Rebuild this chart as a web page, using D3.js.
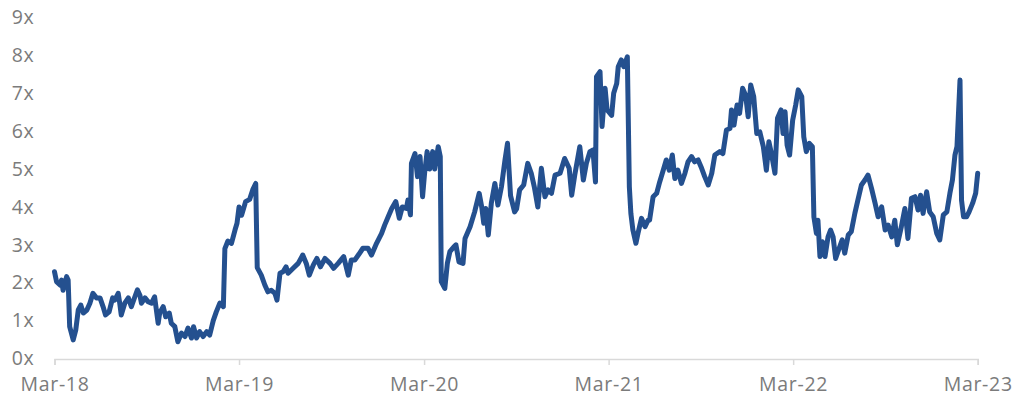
<!DOCTYPE html>
<meta charset="utf-8">
<head>
    <title>Multiple over time</title>
    <script type="text/javascript" src="https://d3js.org/d3.v7.min.js"></script>
    <style>
        body { margin: 0; background: #fff; }
        .tick text { font-family: "Open Sans", sans-serif; font-size: 19.5px; fill: #7b7b7b; letter-spacing: 0.7px; }
    </style>
</head>
<body>
    <div id="chart"></div>
    <script>
        // values, multiple (x)
        var dates = [
            "2018-03-01","2018-03-05","2018-03-12","2018-03-15","2018-03-18","2018-03-25","2018-03-28","2018-03-31",
            "2018-04-07","2018-04-12","2018-04-17","2018-04-22","2018-04-27","2018-05-04","2018-05-10","2018-05-16",
            "2018-05-23","2018-05-30","2018-06-05","2018-06-10","2018-06-17","2018-06-24","2018-06-28","2018-07-05",
            "2018-07-08","2018-07-11","2018-07-18","2018-07-25","2018-07-31","2018-08-07","2018-08-12","2018-08-17",
            "2018-08-20","2018-08-27","2018-09-02","2018-09-09","2018-09-15","2018-09-22","2018-09-25","2018-10-02",
            "2018-10-07","2018-10-14","2018-10-18","2018-10-25","2018-10-31","2018-11-07","2018-11-14","2018-11-20",
            "2018-11-27","2018-12-01","2018-12-07","2018-12-13","2018-12-20","2018-12-27","2019-01-02","2019-01-09",
            "2019-01-15","2019-01-22","2019-01-29","2019-02-01","2019-02-07","2019-02-14","2019-02-21","2019-02-25",
            "2019-03-01","2019-03-06","2019-03-14","2019-03-22","2019-03-28","2019-04-03","2019-04-06","2019-04-14",
            "2019-04-21","2019-04-27","2019-05-04","2019-05-11","2019-05-15","2019-05-21","2019-05-27","2019-06-02",
            "2019-06-06","2019-06-16","2019-06-26","2019-07-05","2019-07-12","2019-07-18","2019-07-26","2019-08-02",
            "2019-08-09","2019-08-18","2019-08-28","2019-09-04","2019-09-13","2019-09-24","2019-10-03","2019-10-09",
            "2019-10-16","2019-10-24","2019-11-01","2019-11-11","2019-11-18","2019-11-28","2019-12-08","2019-12-14",
            "2019-12-21","2019-12-28","2020-01-05","2020-01-12","2020-01-18","2020-01-26","2020-01-29","2020-02-03",
            "2020-02-05","2020-02-12","2020-02-17","2020-02-22","2020-02-27","2020-03-02","2020-03-07","2020-03-12",
            "2020-03-18","2020-03-22","2020-03-29","2020-04-02","2020-04-04","2020-04-11","2020-04-16","2020-04-21",
            "2020-04-29","2020-05-03","2020-05-09","2020-05-17","2020-05-21","2020-05-31","2020-06-09","2020-06-18",
            "2020-06-23","2020-06-27","2020-07-01","2020-07-06","2020-07-12","2020-07-19","2020-07-25","2020-08-01",
            "2020-08-08","2020-08-13","2020-08-19","2020-08-27","2020-08-31","2020-09-06","2020-09-14","2020-09-22",
            "2020-09-29","2020-10-05","2020-10-12","2020-10-19","2020-10-26","2020-11-01","2020-11-08","2020-11-15",
            "2020-11-25","2020-12-04","2020-12-13","2020-12-18","2020-12-24","2021-01-03","2021-01-10","2021-01-16",
            "2021-01-23","2021-01-29","2021-02-03","2021-02-05","2021-02-12","2021-02-16","2021-02-22","2021-02-26",
            "2021-03-07","2021-03-11","2021-03-17","2021-03-20","2021-03-26","2021-03-31","2021-04-07","2021-04-11",
            "2021-04-14","2021-04-18","2021-04-24","2021-04-28","2021-05-05","2021-05-12","2021-05-18","2021-05-21",
            "2021-05-28","2021-06-04","2021-06-10","2021-06-17","2021-06-23","2021-06-29","2021-07-05","2021-07-10",
            "2021-07-16","2021-07-23","2021-07-30","2021-08-05","2021-08-12","2021-08-18","2021-08-25","2021-09-01",
            "2021-09-07","2021-09-14","2021-09-21","2021-09-27","2021-10-07","2021-10-13","2021-10-20","2021-10-27",
            "2021-10-30","2021-11-04","2021-11-10","2021-11-15","2021-11-21","2021-11-27","2021-12-02","2021-12-07",
            "2021-12-13","2021-12-19","2021-12-25","2022-01-01","2022-01-07","2022-01-12","2022-01-17","2022-01-24",
            "2022-01-29","2022-02-05","2022-02-09","2022-02-13","2022-02-17","2022-02-22","2022-02-28","2022-03-06",
            "2022-03-11","2022-03-18","2022-03-22","2022-03-27","2022-04-02","2022-04-08","2022-04-11","2022-04-16",
            "2022-04-19","2022-04-23","2022-04-28","2022-05-03","2022-05-09","2022-05-14","2022-05-19","2022-05-24",
            "2022-05-31","2022-06-06","2022-06-11","2022-06-18","2022-06-24","2022-07-01","2022-07-07","2022-07-14",
            "2022-07-21","2022-07-27","2022-08-03","2022-08-10","2022-08-16","2022-08-23","2022-08-30","2022-09-05",
            "2022-09-12","2022-09-18","2022-09-23","2022-10-01","2022-10-08","2022-10-14","2022-10-21","2022-10-28",
            "2022-11-03","2022-11-08","2022-11-13","2022-11-20","2022-11-26","2022-12-03","2022-12-10","2022-12-16",
            "2022-12-23","2022-12-30","2023-01-05","2023-01-10","2023-01-15","2023-01-19","2023-01-25","2023-01-28",
            "2023-02-01","2023-02-07","2023-02-12","2023-02-19","2023-02-25","2023-03-01"
        ];
        var values = [
            2.29,2.03,1.94,2.07,1.80,2.16,2.07,0.84,
            0.49,0.75,1.28,1.41,1.20,1.28,1.46,1.72,
            1.60,1.60,1.37,1.15,1.23,1.60,1.54,1.72,
            1.46,1.15,1.46,1.60,1.37,1.63,1.81,1.67,
            1.46,1.60,1.50,1.46,1.63,0.93,1.20,1.37,
            1.10,1.20,0.93,0.84,0.44,0.67,0.58,0.80,
            0.54,0.84,0.54,0.71,0.58,0.71,0.62,1.00,
            1.23,1.46,1.37,2.90,3.10,3.04,3.39,3.57,
            4.00,3.78,4.14,4.20,4.45,4.62,2.40,2.20,
            1.94,1.76,1.80,1.72,1.54,2.25,2.29,2.42,
            2.25,2.38,2.51,2.73,2.51,2.20,2.47,2.64,
            2.42,2.64,2.51,2.38,2.51,2.69,2.20,2.60,
            2.60,2.75,2.91,2.91,2.73,3.04,3.30,3.52,
            3.74,3.96,4.14,3.70,4.00,3.96,4.18,3.79,
            5.15,5.41,4.80,5.33,4.27,4.89,5.46,5.00,
            5.46,5.00,5.59,5.33,2.03,1.85,2.51,2.82,
            2.95,3.00,2.55,2.51,3.17,3.48,3.87,4.36,
            4.00,3.57,3.96,3.26,4.10,4.62,4.05,4.53,
            5.24,5.68,4.30,3.87,3.95,4.45,4.58,5.15,
            4.89,4.53,4.00,5.02,4.27,4.45,4.36,4.84,
            4.89,5.28,5.02,4.31,4.84,5.59,4.71,5.15,
            5.46,5.50,4.66,7.44,7.57,6.12,7.13,6.56,
            6.42,7.00,7.26,7.70,7.88,7.70,7.96,4.53,
            3.83,3.39,3.04,3.30,3.70,3.48,3.65,3.65,
            4.27,4.36,4.66,4.97,5.24,4.97,5.37,4.75,
            4.97,4.62,4.89,5.19,5.33,5.19,5.24,5.02,
            4.80,4.58,4.89,5.37,5.46,5.41,6.03,6.07,
            6.56,6.16,6.69,6.47,7.13,6.95,6.38,7.22,
            6.91,5.94,5.98,5.59,4.97,5.72,5.41,4.89,
            6.34,6.56,5.94,6.51,5.63,5.37,6.29,6.69,
            7.09,6.91,5.85,5.46,5.68,5.59,3.74,3.30,
            3.65,2.69,3.08,2.69,3.21,3.39,3.21,2.64,
            2.91,3.13,2.78,3.26,3.35,3.83,4.18,4.58,
            4.71,4.84,4.49,4.10,3.74,4.00,3.39,3.52,
            3.21,3.65,3.00,3.48,3.96,3.17,4.23,4.27,
            3.92,4.31,3.83,4.40,3.87,3.74,3.30,3.13,
            3.79,3.87,4.36,4.71,5.37,5.59,7.35,4.18,
            3.74,3.74,3.87,4.10,4.36,4.89
        ];
        var xTicks = ["2018-03-01","2019-03-01","2020-03-01","2021-03-01","2022-03-01","2023-03-01"];
        var yTicks = [0, 1, 2, 3, 4, 5, 6, 7, 8, 9];

        var width = 1024;
        var height = 406;
        var margin = { top: 17.5, left: 54.5, bottom: 47.5, right: 46.3 };

        var parse = d3.timeParse("%Y-%m-%d");
        var data = dates.map(function(d, i) {
            return { date: parse(d), value: values[i] };
        });

        var svg = d3.select("#chart").append("svg")
                    .attr("width", width)
                    .attr("height", height);

        var x = d3.scaleTime()
                  .domain([parse(xTicks[0]), parse(xTicks[xTicks.length - 1])])
                  .range([margin.left, width - margin.right]);

        var y = d3.scaleLinear()
                  .domain([0, 9])
                  .range([height - margin.bottom, margin.top]);

        // x axis: light rule with small ticks under it
        var xAxis = svg.append("g")
                       .attr("transform", `translate(0, ${height - margin.bottom + 0.5})`)
                       .call(d3.axisBottom(x)
                               .tickValues(xTicks.map(parse))
                               .tickSize(6)
                               .tickPadding(12)
                               .tickFormat(d3.timeFormat("%b-%y")));
        xAxis.select(".domain").attr("stroke", "#d9d9d9").attr("stroke-width", 1.5);
        xAxis.selectAll(".tick line").attr("stroke", "#d9d9d9").attr("stroke-width", 1.5);

        // y axis: labels only
        var yAxis = svg.append("g")
                       .attr("transform", `translate(${margin.left - 20}, 0)`)
                       .call(d3.axisLeft(y)
                               .tickValues(yTicks)
                               .tickSize(0)
                               .tickPadding(0)
                               .tickFormat(function(d) { return d + "x"; }));
        yAxis.select(".domain").remove();

        var line = d3.line()
                     .x(function(d) { return x(d.date); })
                     .y(function(d) { return y(d.value); });

        svg.append("path")
           .datum(data)
           .attr("fill", "none")
           .attr("stroke", "#24508f")
           .attr("stroke-width", 5)
           .attr("stroke-linejoin", "round")
           .attr("stroke-linecap", "round")
           .attr("d", line);
    </script>
</body>
</html>
